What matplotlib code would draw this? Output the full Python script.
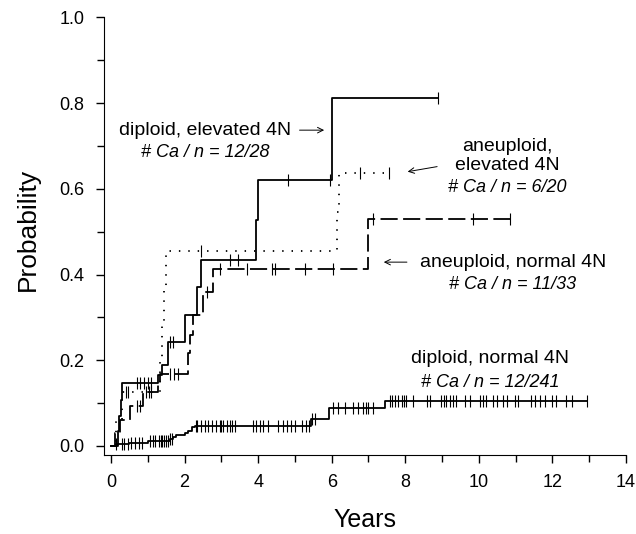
import numpy as np
import matplotlib
matplotlib.use("Agg")
import matplotlib.pyplot as plt

plt.rcParams['font.family'] = ['Liberation Sans', 'DejaVu Sans']

# ---- data (years, cumulative probability) ----
# diploid, elevated 4N (solid)
de_t = [0, 0.18, 0.22, 0.26, 0.30, 1.29, 1.38, 1.56, 2.02, 2.35, 2.44, 3.94, 4.01, 6.0]
de_p = [0, 0.036, 0.071, 0.107, 0.147, 0.166, 0.19, 0.243, 0.306, 0.37, 0.434, 0.527, 0.62, 0.811]
de_end = 8.9
de_cens = [0.7, 0.8, 0.9, 1.0, 1.1, 1.6, 1.68, 3.23, 3.46, 4.8, 5.95, 8.9]

# aneuploid, normal 4N (dashed)
an_t = [0, 0.12, 0.24, 0.52, 0.87, 1.27, 1.33, 2.1, 2.15, 2.22, 2.49, 2.77, 7.0]
an_p = [0, 0.03, 0.06, 0.094, 0.127, 0.148, 0.168, 0.217, 0.26, 0.306, 0.36, 0.413, 0.53]
an_end = 10.85
an_cens = [0.7, 0.79, 0.95, 1.02, 1.1, 1.6, 1.7, 1.82, 2.6, 2.96, 3.69, 4.39, 4.46,
           5.27, 6.04, 7.13, 9.85, 10.85]

# aneuploid, elevated 4N (dotted)
ae_t = [0, 0.15, 0.3, 1.32, 1.38, 1.45, 1.5, 6.15, 6.2]
ae_p = [0, 0.063, 0.127, 0.2, 0.28, 0.37, 0.455, 0.545, 0.637]
ae_end = 7.55
ae_cens = [0.42, 0.47, 2.46, 6.78, 7.55]

# diploid, normal 4N (solid)
dn_t = [0, 0.15, 0.5, 1.0, 1.6, 1.68, 1.78, 2.0, 2.1, 2.19, 2.28, 5.45, 5.93, 7.45]
dn_p = [0, 0.004, 0.008, 0.012, 0.016, 0.02, 0.026, 0.03, 0.035, 0.044, 0.047, 0.063, 0.088, 0.106]
dn_end = 12.94
dn_cens = [0.15, 0.3, 0.35, 0.45, 0.55, 0.65, 0.75, 0.85, 1.05, 1.15, 1.2, 1.3, 1.35,
           1.4, 1.45, 1.5, 1.55, 1.6, 1.65, 2.3, 2.35, 2.45, 2.55, 2.65, 2.75, 2.85,
           2.95, 3.0, 3.05, 3.15, 3.23, 3.3, 3.37, 3.86, 3.95, 4.05, 4.13, 4.27, 4.54,
           4.68, 4.78, 4.88, 5.0, 5.19, 5.3, 5.38, 5.46, 5.54, 6.04, 6.18, 6.36, 6.58,
           6.72, 6.85, 6.92, 6.99, 7.13, 7.58, 7.65, 7.72, 7.8, 7.9, 7.97, 8.03, 8.21,
           8.6, 8.67, 8.96, 9.04, 9.12, 9.21, 9.3, 9.39, 9.62, 9.76, 10.03, 10.1, 10.2,
           10.39, 10.5, 10.66, 10.77, 10.98, 11.07, 11.43, 11.52, 11.66, 11.79, 11.98,
           12.1, 12.38, 12.52, 12.94]

labels = ["diploid, elevated 4N", "aneuploid,\nelevated 4N", "aneuploid, normal 4N",
          "diploid, normal 4N"]
counts = ["# Ca / n = 12/28", "# Ca / n = 6/20", "# Ca / n = 11/33", "# Ca / n = 12/241"]

fig = plt.figure(figsize=(6.36, 5.34), dpi=100)
ax = fig.add_axes([0.1635, 0.148, 0.8208, 0.8434])


def km(t, p, end, cens, ls):
    tt = list(t) + [end]
    pp = list(p) + [p[-1]]
    ax.step(tt, pp, where='post', color='k', lw=1.3, linestyle=ls)
    # censoring ticks sit on the curve level at each censor time
    idx = np.searchsorted(t, cens, side='right') - 1
    ax.plot(cens, np.array(p)[idx], '|', color='k', ms=8, mew=0.8)


km(de_t, de_p, de_end, de_cens, '-')
km(an_t, an_p, an_end, an_cens, (0, (9.5, 3)))
km(ae_t, ae_p, ae_end, ae_cens, (0, (0.8, 4.4)))
km(dn_t, dn_p, dn_end, dn_cens, '-')

fs = 14
arrow = dict(arrowstyle='->', lw=0.7, color='k')
ax.text(2.55, 0.737, labels[0], ha='center', va='center', fontsize=fs)
ax.text(2.55, 0.686, counts[0], ha='center', va='center', fontsize=fs - 1, style='italic')
ax.annotate('', xy=(5.87, 0.737), xytext=(5.05, 0.737), arrowprops=arrow)

ax.text(10.76, 0.677, labels[1], ha='center', va='center', fontsize=fs, linespacing=1.15)
ax.text(10.76, 0.602, counts[1], ha='center', va='center', fontsize=fs - 1, style='italic')
ax.annotate('', xy=(7.99, 0.639), xytext=(8.94, 0.653), arrowprops=arrow)

ax.text(10.92, 0.427, labels[2], ha='center', va='center', fontsize=fs)
ax.text(10.92, 0.376, counts[2], ha='center', va='center', fontsize=fs - 1, style='italic')
ax.annotate('', xy=(7.34, 0.429), xytext=(8.12, 0.429), arrowprops=arrow)

ax.text(10.3, 0.203, labels[3], ha='center', va='center', fontsize=fs)
ax.text(10.3, 0.149, counts[3], ha='center', va='center', fontsize=fs - 1, style='italic')

ax.set_xlim(-0.19, 14)
ax.set_ylim(-0.021, 1.03)
ax.spines['top'].set_visible(False)
ax.spines['right'].set_visible(False)
ax.spines['left'].set_bounds(-0.021, 1.0)
ax.set_xticks(np.arange(0, 15, 2))
ax.set_xticks(np.arange(1, 14, 2), minor=True)
ax.set_yticks(np.arange(0, 1.01, 0.2))
ax.set_yticks(np.arange(0.1, 1.0, 0.2), minor=True)
ax.set_yticklabels(["%.1f" % v for v in np.arange(0, 1.01, 0.2)])
ax.tick_params(which='major', direction='out', length=6, width=1, labelsize=13, pad=8)
ax.tick_params(which='minor', direction='out', length=5, width=1)
ax.set_xlabel("Years", fontsize=18, labelpad=12)
ax.set_ylabel("Probability", fontsize=19, labelpad=14)

fig.savefig("out.png", dpi=100)
